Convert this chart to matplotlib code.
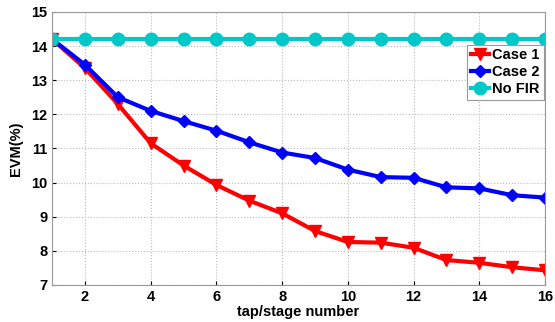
import numpy as np
import matplotlib
matplotlib.use("Agg")
import matplotlib.pyplot as plt

plt.rcParams["font.family"] = ["Liberation Sans", "DejaVu Sans"]
plt.rcParams["font.weight"] = "bold"

taps = list(range(1, 17))
case1 = [14.2, 13.35, 12.3, 11.15, 10.5, 9.93, 9.47, 9.1, 8.58, 8.26, 8.24, 8.09, 7.73, 7.65, 7.52, 7.43]
case2 = [14.2, 13.45, 12.5, 12.1, 11.8, 11.52, 11.18, 10.88, 10.72, 10.38, 10.16, 10.14, 9.86, 9.83, 9.63, 9.56]
no_fir = [14.22] * 16

fig = plt.figure(figsize=(5.55, 3.22), dpi=100)
ax = fig.add_axes([0.094, 0.115, 0.888, 0.848])

ax.plot(taps, case1, color="#ff0000", lw=3, marker="v", ms=9, label="Case 1")
ax.plot(taps, case2, color="#0000ff", lw=3, marker="D", ms=6.5, label="Case 2")
ax.plot(taps, no_fir, color="#00c8c8", lw=3, marker="o", ms=9, label="No FIR")

ax.set_xlim(1, 16)
ax.set_ylim(7, 15)
ax.set_xticks(range(2, 17, 2))
ax.set_yticks(range(7, 16))
ax.grid(True, color="#bbbbbb", linestyle=":", linewidth=0.8)
ax.tick_params(direction="in", labelsize=10.5, length=3, colors="#000000")
for s in ax.spines.values():
    s.set_color("#999999")
ax.set_xlabel("tap/stage number", fontsize=10.5, fontweight="bold", labelpad=1)
ax.set_ylabel("EVM(%)", fontsize=10.5, fontweight="bold", labelpad=6)

leg = ax.legend(loc="upper right", bbox_to_anchor=(1.0, 0.885), fontsize=10.5, handlelength=1.3,
                handletextpad=0.2, borderpad=0.25, labelspacing=0.2, fancybox=False,
                framealpha=1, borderaxespad=0.1)
leg.get_frame().set_edgecolor("#999999")
leg.get_frame().set_linewidth(0.8)

fig.savefig("out.png", dpi=100)
